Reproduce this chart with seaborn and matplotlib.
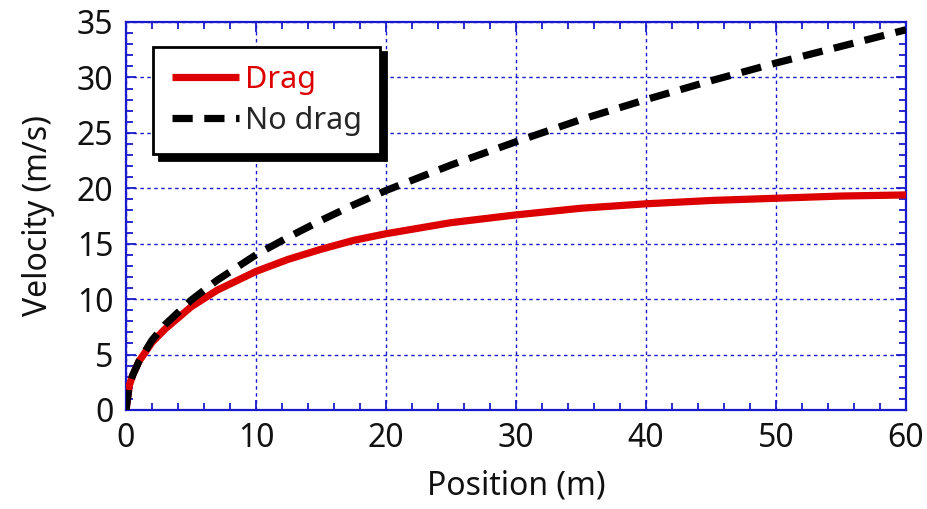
import matplotlib
matplotlib.use("Agg")
import matplotlib.pyplot as plt
import seaborn as sns
import pandas as pd
from matplotlib.ticker import MultipleLocator
from matplotlib.lines import Line2D

# Data
position_drag = [0, 0.25, 0.5, 1, 2, 3, 5, 7, 10, 12.5, 15, 17.5, 20, 25, 30, 35, 40, 45, 50, 55, 60]
velocity_drag = [0, 2.2, 3.1, 4.4, 6.1, 7.3, 9.3, 10.8, 12.5, 13.6, 14.5, 15.3, 15.9, 16.9, 17.6, 18.2, 18.6, 18.9, 19.1, 19.3, 19.4]
position_nodrag = [0, 0.25, 0.5, 1, 2, 3, 5, 7, 10, 12.5, 15, 17.5, 20, 25, 30, 35, 40, 45, 50, 55, 60]
velocity_nodrag = [0, 2.2, 3.1, 4.4, 6.3, 7.7, 9.9, 11.7, 14.0, 15.6, 17.1, 18.5, 19.8, 22.1, 24.2, 26.2, 28.0, 29.7, 31.3, 32.8, 34.3]
series_labels = ["Drag", "No drag"]

df = pd.concat([
    pd.DataFrame({"Position": position_drag, "Velocity": velocity_drag, "Series": series_labels[0]}),
    pd.DataFrame({"Position": position_nodrag, "Velocity": velocity_nodrag, "Series": series_labels[1]}),
])

sns.set_style("ticks")
plt.rcParams["font.family"] = ["Noto Sans", "DejaVu Sans"]

fig = plt.figure(figsize=(9.28, 5.09), dpi=100)
ax = fig.add_axes([0.1358, 0.1945, 0.8405, 0.7623])

blue = "#1a1acc"
red = "#dd0000"
dash = (2.8, 1.6)
sns.lineplot(data=df, x="Position", y="Velocity", hue="Series", style="Series",
             palette={"Drag": red, "No drag": "black"},
             dashes={"Drag": "", "No drag": dash},
             linewidth=5.2, ax=ax, legend=False, zorder=3)
for ln in ax.get_lines():
    ln.set_solid_capstyle("butt")
    ln.set_dash_capstyle("butt")

ax.set_xlim(0, 60)
ax.set_ylim(0, 35)
ax.xaxis.set_major_locator(MultipleLocator(10))
ax.xaxis.set_minor_locator(MultipleLocator(2))
ax.yaxis.set_major_locator(MultipleLocator(5))
ax.yaxis.set_minor_locator(MultipleLocator(1))
ax.tick_params(which="both", direction="in", top=True, right=True, color=blue,
               labelsize=23, labelcolor="#111111", width=1.3)
ax.tick_params(which="major", length=7, pad=9)
ax.tick_params(which="minor", length=5)
for s in ax.spines.values():
    s.set_color(blue)
    s.set_linewidth(1.6)
ax.grid(True, which="major", color=blue, linestyle=(0, (2.5, 2.5)), linewidth=1.0)

ax.set_xlabel("Position (m)", fontsize=23, color="#111111", labelpad=10)
ax.set_ylabel("Velocity (m/s)", fontsize=23, color="#111111", labelpad=16)

handles = [Line2D([], [], color=red, lw=5.2, solid_capstyle="butt"),
           Line2D([], [], color="black", lw=5.2, dashes=dash, dash_capstyle="butt")]
leg = ax.legend(handles, series_labels, loc="upper left", bbox_to_anchor=(0.035, 0.936),
                borderaxespad=0, fancybox=False, fontsize=22, handlelength=2.2,
                handletextpad=0.2, borderpad=0.6, labelspacing=0.35, framealpha=1,
                edgecolor="black", shadow={"color": "black", "alpha": 1, "ox": 4, "oy": -4})
leg.get_frame().set_linewidth(2)
leg.get_texts()[0].set_color(red)
leg.set_zorder(5)

fig.savefig("out.png", dpi=100)
